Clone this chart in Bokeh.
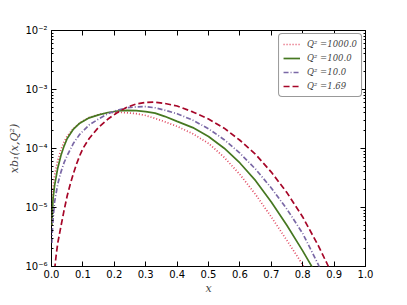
from bokeh.plotting import figure
from bokeh.models import (LogAxis, LinearAxis, FixedTicker, LogTicker,
                          PrintfTickFormatter, CustomJSTickFormatter, Legend, LegendItem)
from bokeh.embed import file_html
from bokeh.resources import INLINE

# ---- data ----
x_q1000 = [0.001, 0.002, 0.005, 0.01, 0.02, 0.03, 0.04, 0.05, 0.07, 0.09, 0.12, 0.15, 0.18,
           0.21, 0.24, 0.27, 0.30, 0.33, 0.36, 0.40, 0.45, 0.50, 0.55, 0.60, 0.65, 0.70,
           0.75, 0.80, 0.82]
y_q1000 = [5.0e-6, 8.91e-6, 2.09e-5, 3.55e-5, 6.31e-5, 9.55e-5, 1.29e-4, 1.62e-4, 2.19e-4, 2.72e-4,
           3.35e-4, 3.76e-4, 4.03e-4, 4.12e-4, 4.03e-4, 3.89e-4, 3.63e-4, 3.24e-4, 2.85e-4, 2.37e-4,
           1.78e-4, 1.22e-4, 7.08e-5, 3.63e-5, 1.66e-5, 6.92e-6, 2.75e-6, 1.07e-6, 6.31e-7]

x_q100 = [0.001, 0.002, 0.005, 0.01, 0.02, 0.03, 0.04, 0.05, 0.07, 0.09, 0.12, 0.15, 0.18,
          0.21, 0.24, 0.27, 0.30, 0.33, 0.36, 0.40, 0.45, 0.50, 0.55, 0.60, 0.65, 0.70,
          0.75, 0.80, 0.84]
y_q100 = [5.0e-6, 7.08e-6, 1.41e-5, 2.40e-5, 4.68e-5, 7.59e-5, 1.10e-4, 1.48e-4, 2.14e-4, 2.69e-4,
          3.31e-4, 3.72e-4, 4.07e-4, 4.32e-4, 4.42e-4, 4.37e-4, 4.22e-4, 3.98e-4, 3.51e-4, 2.88e-4,
          2.26e-4, 1.60e-4, 1.01e-4, 5.69e-5, 2.85e-5, 1.24e-5, 4.95e-6, 1.84e-6, 7.94e-7]

x_q10 = [0.001, 0.002, 0.005, 0.01, 0.02, 0.03, 0.04, 0.05, 0.07, 0.09, 0.12, 0.15, 0.18,
         0.21, 0.24, 0.27, 0.30, 0.33, 0.36, 0.40, 0.45, 0.50, 0.55, 0.60, 0.65, 0.70,
         0.75, 0.80, 0.85, 0.86]
y_q10 = [2.51e-6, 3.55e-6, 6.31e-6, 1.26e-5, 2.51e-5, 3.98e-5, 5.75e-5, 7.59e-5, 1.23e-4, 1.74e-4,
         2.51e-4, 3.16e-4, 3.89e-4, 4.47e-4, 4.90e-4, 5.07e-4, 5.13e-4, 4.90e-4, 4.47e-4, 3.89e-4,
         3.02e-4, 2.16e-4, 1.41e-4, 8.32e-5, 4.47e-5, 2.14e-5, 9.33e-6, 3.63e-6, 1.07e-6, 7.94e-7]

x_q169 = [0.01, 0.015, 0.02, 0.03, 0.04, 0.05, 0.06, 0.07, 0.08, 0.09, 0.10, 0.12, 0.15, 0.18,
          0.21, 0.24, 0.27, 0.30, 0.33, 0.36, 0.40, 0.45, 0.50, 0.55, 0.60, 0.65, 0.70,
          0.75, 0.80, 0.85, 0.88, 0.89]
y_q169 = [8.91e-7, 1.58e-6, 2.51e-6, 4.79e-6, 8.91e-6, 1.58e-5, 2.51e-5, 3.80e-5, 5.50e-5, 7.59e-5,
          1.00e-4, 1.48e-4, 2.29e-4, 3.16e-4, 4.07e-4, 5.01e-4, 5.69e-4, 6.03e-4, 6.10e-4, 5.82e-4,
          5.25e-4, 4.17e-4, 3.16e-4, 2.21e-4, 1.38e-4, 7.94e-5, 3.98e-5, 1.78e-5, 6.92e-6, 2.24e-6,
          1.05e-6, 7.94e-7]

labels = ["Q\u00b2 =1000.0", "Q\u00b2 =100.0", "Q\u00b2 =10.0", "Q\u00b2 =1.69"]
x_ticks = [0.0, 0.1, 0.2, 0.3, 0.4, 0.5, 0.6, 0.7, 0.8, 0.9, 1.0]

colors = ["#e0475f", "#467821", "#7a68a6", "#a60628"]
dashes = ["1 2", "solid", "5 2 1 2", "6 3"]

TICK_FONT = "DejaVu Sans"
TICK_SIZE = "10px"

p = figure(width=399, height=297, x_range=(0, 1), y_range=(1e-6, 1e-2),
           y_axis_type="log", output_backend="svg", toolbar_location=None,
           min_border_left=51, min_border_right=34, min_border_top=30, min_border_bottom=31,
           background_fill_color="white", border_fill_color="white")
p.grid.visible = False
p.outline_line_color = "black"
p.outline_line_width = 1

renderers = []
for xs, ys, c, d in zip([x_q1000, x_q100, x_q10, x_q169],
                        [y_q1000, y_q100, y_q10, y_q169], colors, dashes):
    r = p.line(xs, ys, line_color=c, line_dash=d, line_width=1.7)
    renderers.append(r)

sup = CustomJSTickFormatter(code="""
const m = {'-':'\u207b','0':'\u2070','1':'\u00b9','2':'\u00b2','3':'\u00b3','4':'\u2074','5':'\u2075','6':'\u2076','7':'\u2077','8':'\u2078','9':'\u2079'};
const e = String(Math.round(Math.log10(tick)));
let s = '';
for (const ch of e) { s += m[ch]; }
return '10' + s;
""")
blank = CustomJSTickFormatter(code="return '';")

xa = p.xaxis[0]
xa.ticker = FixedTicker(ticks=x_ticks)
xa.formatter = PrintfTickFormatter(format="%.1f")
xa.axis_label = "x"
ya = p.yaxis[0]
ya.ticker = LogTicker(num_minor_ticks=10)
ya.formatter = sup
ya.axis_label = "xb\u2081(x,Q\u00b2)"

top = LinearAxis(ticker=FixedTicker(ticks=x_ticks), formatter=blank)
right = LogAxis(ticker=LogTicker(num_minor_ticks=10), formatter=blank)
p.add_layout(top, "above")
p.add_layout(right, "right")

for ax in [xa, ya, top, right]:
    ax.axis_line_color = None
    ax.major_tick_in = 5
    ax.major_tick_out = 0
    ax.minor_tick_in = 2
    ax.minor_tick_out = 0
    ax.major_tick_line_color = "black"
    ax.minor_tick_line_color = "black"
    ax.major_label_text_font = TICK_FONT
    ax.major_label_text_font_size = TICK_SIZE
    ax.major_label_text_color = "black"
    ax.axis_label_text_font = "DejaVu Serif"
    ax.axis_label_text_font_style = "italic"
    ax.axis_label_text_font_size = "11px"
xa.minor_tick_line_color = None
top.minor_tick_line_color = None
top.major_label_standoff = 0
right.major_label_standoff = 0
xa.major_label_standoff = 3
xa.axis_label_standoff = 1
ya.major_label_standoff = 4
ya.axis_label_standoff = 1

legend = Legend(items=[LegendItem(label=l, renderers=[r]) for l, r in zip(labels, renderers)],
                location="top_right", margin=3, padding=4, spacing=2,
                glyph_width=17, glyph_height=12, label_standoff=7,
                label_text_font="DejaVu Serif", label_text_font_style="italic",
                label_text_font_size="8.5px", label_height=12,
                border_line_color="#333333", border_line_width=1,
                background_fill_color="white", background_fill_alpha=1.0)
try:
    legend.border_radius = 4
except Exception:
    pass
p.add_layout(legend)

open("out.html", "w").write(file_html(p, INLINE))
